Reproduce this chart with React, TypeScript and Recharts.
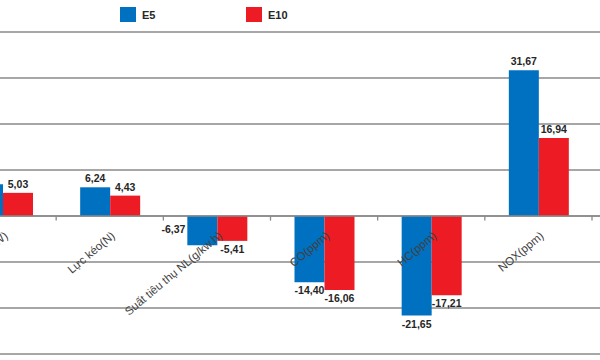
import React from 'react';
import {
  Bar,
  BarChart,
  CartesianGrid,
  LabelList,
  Legend,
  ReferenceDot,
  ReferenceLine,
  XAxis,
  YAxis,
} from 'recharts';

// Percent change vs. the base fuel, per engine metric.
const categories = [
  'Công suất(kW)',
  'Lực kéo(N)',
  'Suất tiêu thụ NL(g/kw.h)',
  'CO(ppm)',
  'HC(ppm)',
  'NOX(ppm)',
];
const e5Values = [6.9, 6.24, -6.37, -14.4, -21.65, 31.67];
const e10Values = [5.03, 4.43, -5.41, -16.06, -17.21, 16.94];
const yTicks = [-30, -20, -10, 0, 10, 20, 30, 40];
const seriesNames = ['E5', 'E10'];

const BLUE = '#0070C0';
const RED = '#ED1C24';
const GRID = '#8a8a8a';
const FONT = '"Liberation Sans", Arial, sans-serif';

const data = categories.map((name, i) => ({
  name,
  e5: e5Values[i],
  e10: e10Values[i],
}));

const fmt = (v: number) => v.toFixed(2).replace('.', ',');

/** Value label above positive bars, below negative ones. The one
 *  passed as sideIndex sits beside its bar instead (it would clash
 *  with the rotated category text otherwise). */
function makeValueLabel(sideIndex?: number) {
  return (props: any) => {
    const { x, y, width, height, value, index } = props;
    if (value === null || value === undefined) return null;
    const top = Math.min(y, y + height);
    const bottom = Math.max(y, y + height);
    const cx = x + width / 2;
    const common = {
      fontFamily: FONT,
      fontSize: 10.5,
      fontWeight: 700,
      fill: '#262626',
    };
    if (index === sideIndex) {
      return (
        <text x={x - 2} y={top + 17} textAnchor="end" {...common}>
          {fmt(value)}
        </text>
      );
    }
    if (value >= 0) {
      return (
        <text x={cx} y={top - 5} textAnchor="middle" {...common}>
          {fmt(value)}
        </text>
      );
    }
    return (
      <text x={cx} y={bottom + 12} textAnchor="middle" {...common}>
        {fmt(value)}
      </text>
    );
  };
}

function CategoryText({ cx, cy, text }: { cx?: number; cy?: number; text: string }) {
  if (cx === undefined || cy === undefined) return null;
  const ax = cx + 6;
  const ay = cy + 21;
  return (
    <text
      x={ax}
      y={ay}
      textAnchor="end"
      transform={`rotate(-40 ${ax} ${ay})`}
      fontFamily={FONT}
      fontSize={11.5}
      fill="#404040"
    >
      {text}
    </text>
  );
}

function LegendBox() {
  const colors = [BLUE, RED];
  return (
    <div style={{ position: 'relative', width: 180, height: 16 }}>
      {seriesNames.map((n, i) => (
        <div
          key={n}
          style={{
            position: 'absolute',
            left: i * 126,
            top: 0,
            display: 'flex',
            alignItems: 'center',
          }}
        >
          <span style={{ display: 'inline-block', width: 16, height: 15, background: colors[i] }} />
          <span
            style={{
              marginLeft: 6,
              fontFamily: FONT,
              fontSize: 11,
              fontWeight: 700,
              color: '#262626',
            }}
          >
            {n}
          </span>
        </div>
      ))}
    </div>
  );
}

export default function App() {
  return (
    <div
      style={{
        position: 'fixed',
        left: 0,
        top: 0,
        width: 600,
        height: 360,
        overflow: 'hidden',
        background: '#fff',
      }}
    >
      <div style={{ position: 'absolute', left: -51, top: 0 }}>
        <BarChart
          width={712}
          height={360}
          data={data}
          margin={{ top: 32, right: 0, bottom: 6, left: 0 }}
          barSize={30}
          barGap={0}
        >
          <CartesianGrid vertical={false} stroke={GRID} strokeWidth={1.3} />
          <XAxis dataKey="name" type="category" hide padding={{ left: 0, right: 69 }} />
          <YAxis hide domain={[-30, 40]} ticks={yTicks} type="number" />
          <Legend
            layout="horizontal"
            verticalAlign="middle"
            align="center"
            wrapperStyle={{ left: 171, top: 7, width: 200 }}
            content={() => <LegendBox />}
          />
          <Bar dataKey="e5" name="E5" fill={BLUE} isAnimationActive={false}>
            <LabelList dataKey="e5" content={makeValueLabel(2)} />
          </Bar>
          <Bar dataKey="e10" name="E10" fill={RED} isAnimationActive={false}>
            <LabelList dataKey="e10" content={makeValueLabel()} />
          </Bar>
          <ReferenceLine y={0} stroke={GRID} strokeWidth={1.3} />
          {categories.map((c) => (
            <ReferenceLine
              key={`tick-${c}`}
              segment={[
                { x: c, y: 0 },
                { x: c, y: -1 },
              ]}
              position="end"
              stroke={GRID}
              strokeWidth={1.3}
            />
          ))}
          {categories.map((c) => (
            <ReferenceDot
              key={`cat-${c}`}
              x={c}
              y={0}
              r={0}
              shape={(p: any) => <CategoryText cx={p.cx} cy={p.cy} text={c} />}
            />
          ))}
        </BarChart>
      </div>
    </div>
  );
}
